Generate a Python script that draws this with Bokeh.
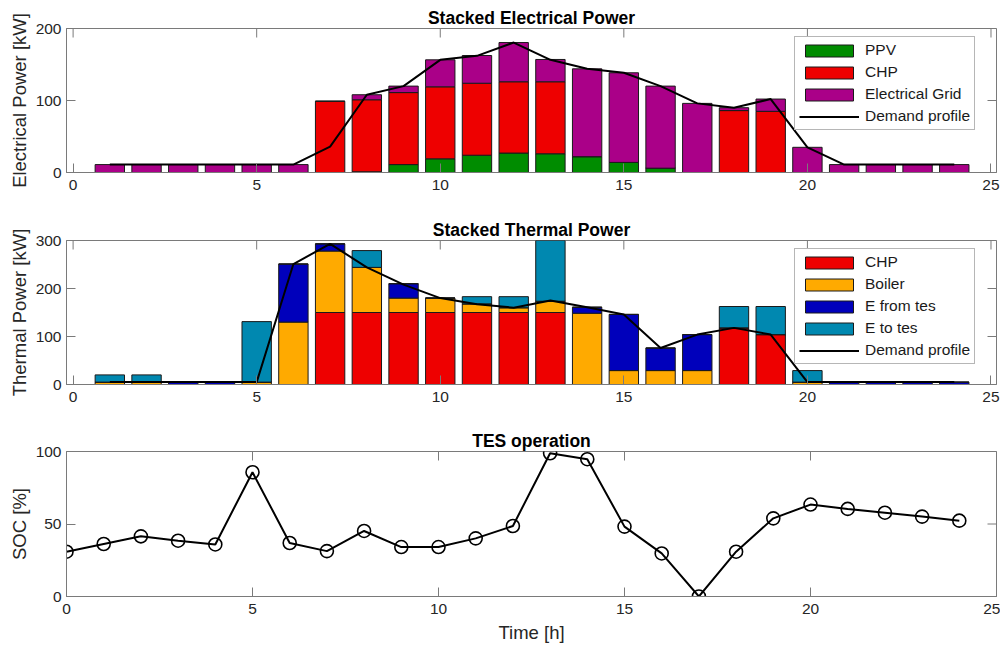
import math
from bokeh.plotting import figure
from bokeh.models import Range1d, FixedTicker, Legend, LegendItem, ColumnDataSource
from bokeh.layouts import column
from bokeh.embed import file_html
from bokeh.resources import INLINE

# ---------------- data ----------------
hours = list(range(1, 25))

# Electrical power [kW]
ppv = [0, 0, 0, 0, 0, 0, 0, 1, 11, 19, 24, 27, 26, 22, 14, 6, 0, 0, 0, 0, 0, 0, 0, 0]
chp_el = [0, 0, 0, 0, 0, 0, 99, 100, 100, 100, 100, 99, 100, 0, 0, 0, 0, 86, 85, 0, 0, 0, 0, 0]
grid_el = [11, 11, 11, 11, 11, 11, 0, 7, 9, 37.5, 38.5, 54.5, 31, 122, 124.5, 114, 96, 4, 17, 35, 11, 11, 11, 11]
demand_el = [11, 11, 11, 11, 11, 11, 36, 108, 120, 156.5, 162, 180.5, 156.5, 144, 138.5, 120, 96, 90, 102, 35, 11, 11, 11, 11]

# Thermal power [kW]
chp_th = [0, 0, 0, 0, 0, 0, 150, 150, 150, 150, 150, 150, 150, 0, 0, 0, 0, 118, 104, 0, 0, 0, 0, 0]
boiler = [5, 5, 0, 0, 5, 130, 128, 94, 30, 30, 18, 10, 23.5, 148.5, 29, 29, 29, 0, 0, 5, 0, 0, 0, 0]
from_tes = [0, 0, 5, 5, 0, 121, 15, 0, 30, 0, 0, 0, 0, 12.5, 117, 47, 75, 0, 0, 0, 5, 5, 5, 5]
to_tes = [15, 15, 0, 0, 126, 0, 0, 35, 0, 0, 15, 23, 160, 0, 0, 0, 0, 44.5, 58.5, 24, 0, 0, 0, 0]
demand_th = [5, 5, 5, 5, 5, 251, 293, 244, 208, 180, 167, 160, 175, 161, 146, 76, 104, 118, 104, 5, 5, 5, 5, 5]

# TES state of charge [%]
soc_hours = list(range(0, 25))
soc = [30.9, 36.2, 41.5, 38.5, 35.9, 85.7, 36.9, 31.3, 45.2, 34.1, 34.1, 40.1, 48.6,
       98.8, 94.7, 48.2, 29.7, 0, 30.9, 53.9, 63.4, 60.4, 57.8, 55.1, 52.3]

x_ticks = [0, 5, 10, 15, 20, 25]
y_ticks_el = [0, 100, 200]
y_ticks_th = [0, 100, 200, 300]
y_ticks_soc = [0, 50, 100]

# ---------------- style ----------------
FONT = "Liberation Sans"
AX = "#7a7a7a"
TXT = "#262626"
C_PV = "#008c00"
C_CHP = "#ee0000"
C_GRID = "#aa0088"
C_BOIL = "#ffaa00"
C_FROM = "#0000bb"
C_TO = "#0088b0"
TICK = 9


def style(p, xticks, yticks, ylabel, xlabel=None):
    p.xgrid.visible = False
    p.ygrid.visible = False
    p.outline_line_color = AX
    p.background_fill_color = "white"
    p.border_fill_color = "white"
    p.title.align = "center"
    p.title.text_font = FONT
    p.title.text_font_size = "17.5px"
    p.title.text_font_style = "bold"
    p.title.text_color = "black"
    p.title.standoff = 2
    for ax, ticks in ((p.xaxis[0], xticks), (p.yaxis[0], yticks)):
        ax.ticker = FixedTicker(ticks=ticks)
        ax.major_tick_in = TICK
        ax.major_tick_out = 0
        ax.minor_tick_line_color = None
        ax.axis_line_color = AX
        ax.major_tick_line_color = AX
        ax.major_label_text_font = FONT
        ax.major_label_text_font_size = "15.5px"
        ax.major_label_text_color = TXT
        ax.axis_label_text_font = FONT
        ax.axis_label_text_font_size = "18.5px"
        ax.axis_label_text_font_style = "normal"
        ax.axis_label_text_color = TXT
    p.xaxis[0].major_label_standoff = 7
    p.yaxis[0].major_label_standoff = 5
    p.yaxis[0].axis_label_standoff = 3
    p.xaxis[0].axis_label_standoff = 5
    p.yaxis[0].axis_label = ylabel
    if xlabel:
        p.xaxis[0].axis_label = xlabel
    # inward box ticks on the top and right edges (clipped to the frame)
    x_end = p.x_range.end
    y_end = p.y_range.end
    p.scatter(x=xticks, y=[y_end] * len(xticks), marker="dash", size=2 * TICK,
              angle=math.pi / 2, line_color=AX, line_width=1)
    p.scatter(x=[x_end] * len(yticks), y=yticks, marker="dash", size=2 * TICK,
              line_color=AX, line_width=1)


def legend_style(lg):
    lg.label_text_font = FONT
    lg.label_text_font_size = "15.5px"
    lg.label_text_color = "#1a1a1a"
    lg.glyph_width = 60
    lg.glyph_height = 15
    lg.label_height = 18
    lg.label_width = 105
    lg.label_standoff = 6
    lg.spacing = 4
    lg.padding = 4
    lg.margin = 0
    lg.border_line_color = "#6e6e6e"
    lg.border_line_width = 1
    lg.background_fill_color = "white"
    lg.background_fill_alpha = 1


W = 1000

# ---------------- electrical ----------------
src_el = ColumnDataSource(dict(hour=hours, ppv=ppv, chp=chp_el, grid=grid_el, demand=demand_el))
p1 = figure(width=W, height=198, title="Stacked Electrical Power",
            x_range=Range1d(-0.18, 25.15), y_range=Range1d(0, 200),
            output_backend="svg", toolbar_location=None,
            min_border_left=66, min_border_right=4, min_border_top=28, min_border_bottom=26)
r_el = p1.vbar_stack(["ppv", "chp", "grid"], x="hour", width=0.8, source=src_el,
                     fill_color=[C_PV, C_CHP, C_GRID], line_color="#1a1a1a", line_width=1)
l_el = p1.line("hour", "demand", source=src_el, line_color="black", line_width=2)
style(p1, x_ticks, y_ticks_el, "Electrical Power [kW]")
lg1 = Legend(items=[LegendItem(label="PPV", renderers=[r_el[0]]),
                    LegendItem(label="CHP", renderers=[r_el[1]]),
                    LegendItem(label="Electrical Grid", renderers=[r_el[2]]),
                    LegendItem(label="Demand profile", renderers=[l_el])],
             location=(728, 42))
legend_style(lg1)
p1.add_layout(lg1, "center")

# ---------------- thermal ----------------
src_th = ColumnDataSource(dict(hour=hours, chp=chp_th, boiler=boiler, frm=from_tes, to=to_tes, demand=demand_th))
p2 = figure(width=W, height=212, title="Stacked Thermal Power",
            x_range=Range1d(-0.18, 25.15), y_range=Range1d(0, 300),
            output_backend="svg", toolbar_location=None,
            min_border_left=66, min_border_right=4, min_border_top=42, min_border_bottom=26)
r_th = p2.vbar_stack(["chp", "boiler", "frm", "to"], x="hour", width=0.8, source=src_th,
                     fill_color=[C_CHP, C_BOIL, C_FROM, C_TO], line_color="#1a1a1a", line_width=1)
l_th = p2.line("hour", "demand", source=src_th, line_color="black", line_width=2)
style(p2, x_ticks, y_ticks_th, "Thermal Power [kW]")
lg2 = Legend(items=[LegendItem(label="CHP", renderers=[r_th[0]]),
                    LegendItem(label="Boiler", renderers=[r_th[1]]),
                    LegendItem(label="E from tes", renderers=[r_th[2]]),
                    LegendItem(label="E to tes", renderers=[r_th[3]]),
                    LegendItem(label="Demand profile", renderers=[l_th])],
             location=(728, 20))
legend_style(lg2)
p2.add_layout(lg2, "center")

# ---------------- TES ----------------
src_soc = ColumnDataSource(dict(hour=soc_hours, soc=soc))
p3 = figure(width=W, height=238, title="TES operation",
            x_range=Range1d(0, 25), y_range=Range1d(0, 100),
            output_backend="svg", toolbar_location=None,
            min_border_left=66, min_border_right=4, min_border_top=41, min_border_bottom=52)
p3.line("hour", "soc", source=src_soc, line_color="black", line_width=2)
p3.scatter("hour", "soc", source=src_soc, marker="circle", size=13, fill_alpha=0,
           line_color="black", line_width=1.6)
style(p3, x_ticks, y_ticks_soc, "SOC [%]", "Time [h]")

layout = column(p1, p2, p3, spacing=0)
open("out.html", "w").write(file_html(layout, INLINE))
